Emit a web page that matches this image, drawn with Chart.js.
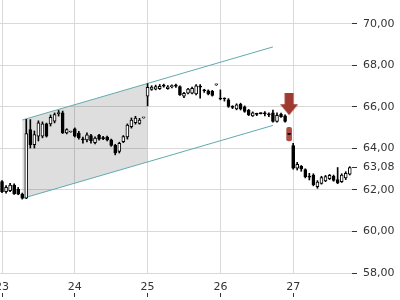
<!DOCTYPE html>
<html><head><meta charset="utf-8">
<script src="https://cdn.jsdelivr.net/npm/chart.js@4/dist/chart.umd.min.js"></script>
<style>html,body{margin:0;padding:0;background:#fff;overflow:hidden;}</style>
</head><body>
<canvas id="c" width="400" height="300"></canvas>
<script>
// ---- data ----
const dayTicks = [0, 18, 36, 54, 72];
const dayLabels = ['23', '24', '25', '26', '27'];
const priceTicks = [58, 60, 62, 64, 66, 68, 70];
const lastPrice = 63.08;

const opens = [62.40,61.92,61.97,62.24,62.03,61.79,61.60,64.91,64.18,64.59,64.59,65.18,65.18,65.31,65.68,65.71,64.75,64.79,
  64.94,64.73,64.45,64.41,64.62,64.28,64.63,64.50,64.55,64.41,64.15,63.86,64.33,64.55,65.05,65.24,65.21,65.47,
  66.52,66.84,66.86,66.88,67.02,66.88,66.98,67.03,66.98,66.52,66.66,66.66,66.62,66.98,66.80,66.78,66.75,67.06,
  66.42,66.40,66.34,66.02,65.90,66.12,66.01,65.84,65.57,65.66,65.69,65.70,65.64,65.72,65.30,65.66,65.57,64.70,
  64.14,63.05,63.14,62.98,62.66,62.72,62.16,62.32,62.44,62.54,62.66,62.50,62.40,62.58,62.76];
const highs = [62.45,62.21,62.32,62.29,62.12,61.85,65.40,65.39,64.84,65.33,65.28,65.22,65.61,65.71,65.83,65.80,64.95,64.83,
  64.99,64.82,64.55,64.75,64.68,64.56,64.68,64.58,64.60,64.45,64.20,64.30,64.62,65.18,65.47,65.55,65.45,65.50,
  67.12,67.02,67.05,67.08,67.10,67.03,67.06,67.10,67.02,66.70,66.90,66.95,67.08,67.08,66.85,66.82,66.80,67.10,
  66.82,66.44,66.40,66.06,66.15,66.18,66.05,65.88,65.76,65.70,65.71,65.78,65.71,65.85,65.72,65.70,65.62,64.70,
  64.25,63.33,63.18,63.02,62.80,62.78,62.45,62.66,62.70,62.75,62.72,63.08,62.78,62.88,63.12];
const lows = [61.87,61.84,61.92,61.78,61.77,61.56,61.58,64.02,64.02,64.36,64.51,64.55,65.08,65.23,65.56,64.72,64.70,64.78,
  64.55,64.45,64.25,64.31,64.25,64.22,64.40,64.42,64.36,64.10,63.69,63.78,64.28,64.45,64.98,65.17,65.17,65.46,
  66.05,66.80,66.82,66.84,66.95,66.85,66.92,66.94,66.55,66.45,66.62,66.62,66.58,66.42,66.70,66.58,66.52,67.04,
  66.34,66.28,65.98,65.92,65.86,65.85,65.74,65.58,65.54,65.58,65.66,65.57,65.53,65.27,65.26,65.50,65.27,64.68,
  63.00,62.96,62.90,62.58,62.48,62.20,62.08,62.28,62.40,62.50,62.42,62.30,62.36,62.50,62.72];
const closes = [61.92,62.13,62.24,61.81,61.80,61.60,64.72,64.18,64.67,65.23,65.18,64.59,65.50,65.63,65.73,64.75,64.91,64.81,
  64.59,64.52,64.41,64.65,64.38,64.50,64.45,64.47,64.41,64.14,63.78,64.25,64.57,65.12,65.37,65.46,65.37,65.49,
  66.94,66.96,66.98,66.99,67.00,66.97,67.00,67.00,66.58,66.66,66.86,66.90,67.02,66.95,66.78,66.62,66.55,67.07,
  66.38,66.38,66.02,65.98,66.10,65.90,65.78,65.62,65.72,65.64,65.68,65.67,65.62,65.30,65.60,65.53,65.30,64.68,
  63.05,63.24,63.01,62.64,62.62,62.25,62.38,62.60,62.64,62.70,62.46,62.34,62.72,62.80,63.08];

const channelX = [5, 67];
const channelUpper = [65.37, 68.89];
const channelLower = [61.59, 65.11];
const shadeX = [5, 36];
const shadeUpper = [65.37, 67.13];
const shadeLower = [61.59, 63.35];

const markerIdx = 71;
const markerRange = [64.36, 65.02];
const arrowValue = 66.13;

// ---- styling helpers ----
const GRID = '#d9d9d9';
const TEXT = '#333333';
const TEAL = '#62a9ae';

const arrowImg = document.createElement('canvas');
arrowImg.width = 18; arrowImg.height = 22;
(function () {
  const g = arrowImg.getContext('2d');
  g.fillStyle = '#9f3a31';
  g.fillRect(4.5, 0, 9, 11);
  g.beginPath(); g.moveTo(0, 11); g.lineTo(18, 11); g.lineTo(9, 22); g.closePath(); g.fill();
})();

const idx = opens.map((_, i) => i);
const wickData = idx.map(i => ({ x: i, y: [lows[i], highs[i]] }));
const bodyData = idx.map(i => ({ x: i, y: [opens[i], closes[i]] }));
const bodyFill = idx.map(i => closes[i] > opens[i] ? '#ffffff' : '#000000');

const pts = (xs, ys) => xs.map((x, k) => ({ x: x, y: ys[k] }));
const dayTickObjs = () => dayTicks.map(v => ({ value: v }));

Chart.defaults.font.family = 'DejaVu Sans';
Chart.defaults.font.size = 11;
Chart.defaults.color = TEXT;

new Chart(document.getElementById('c'), {
  data: {
    datasets: [
      { type: 'scatter', data: [{ x: markerIdx, y: arrowValue }], pointStyle: arrowImg, pointRadius: 5, order: 0 },
      { type: 'bar', data: bodyData, backgroundColor: bodyFill, borderColor: '#000', borderWidth: 1,
        borderSkipped: false, barThickness: 3, minBarLength: 1, grouped: false, order: 1 },
      { type: 'bar', data: wickData, backgroundColor: '#000', barThickness: 1, grouped: false, order: 2 },
      { type: 'bar', data: [{ x: markerIdx, y: markerRange }], backgroundColor: '#ad4b45', barThickness: 5,
        borderRadius: 2, borderSkipped: false, grouped: false, order: 3 },
      { type: 'line', data: pts(channelX, channelUpper), borderColor: TEAL, borderWidth: 1, pointRadius: 0, fill: false, order: 4 },
      { type: 'line', data: pts(channelX, channelLower), borderColor: TEAL, borderWidth: 1, pointRadius: 0, fill: false, order: 4 },
      { type: 'line', data: pts(shadeX, shadeUpper), borderWidth: 0, pointRadius: 0, fill: false, order: 5 },
      { type: 'line', data: pts(shadeX, shadeLower), borderWidth: 0, pointRadius: 0, fill: '-1',
        backgroundColor: 'rgba(0,0,0,0.13)', order: 5 }
    ]
  },
  options: {
    responsive: false,
    devicePixelRatio: 1,
    animation: false,
    layout: { autoPadding: false, padding: { top: 0, left: 0, right: 0, bottom: 3 } },
    plugins: { legend: { display: false }, tooltip: { enabled: false } },
    scales: {
      x: {
        type: 'linear', position: 'bottom', min: -0.5, max: 86.55, offset: false,
        afterBuildTicks: s => { s.ticks = dayTickObjs(); },
        afterFit: s => { s.paddingLeft = 0; s.paddingRight = 0; s.height = 20; },
        ticks: { autoSkip: false, maxRotation: 0, padding: 8, color: TEXT,
          callback: v => { const k = dayTicks.indexOf(v); return k >= 0 ? dayLabels[k] : ''; } },
        grid: { color: GRID, drawTicks: false, offset: false },
        border: { display: false }
      },
      xt: {
        type: 'linear', position: 'bottom', weight: 1, min: -0.5, max: 86.55, offset: false,
        afterBuildTicks: s => { s.ticks = dayTickObjs(); },
        afterFit: s => { s.paddingLeft = 0; s.paddingRight = 0; s.height = 4; },
        ticks: { display: false },
        grid: { drawOnChartArea: false, drawTicks: true, tickLength: 4, tickColor: TEXT, color: TEXT, offset: false },
        border: { display: false }
      },
      y: {
        type: 'linear', position: 'right', min: 58, max: 71.15,
        afterBuildTicks: s => { s.ticks = priceTicks.concat([lastPrice]).sort((a, b) => a - b).map(v => ({ value: v })); },
        afterFit: s => { s.paddingTop = 0; s.paddingBottom = 0; s.width = 48; },
        ticks: { autoSkip: false, padding: 6, color: TEXT,
          callback: v => Number(v).toFixed(2).replace('.', ',') },
        grid: { color: c => (c.tick && c.tick.value === lastPrice) ? 'rgba(0,0,0,0)' : GRID,
          tickColor: TEXT, tickLength: 5, drawTicks: true },
        border: { display: false }
      }
    }
  }
});
</script>
</body></html>
